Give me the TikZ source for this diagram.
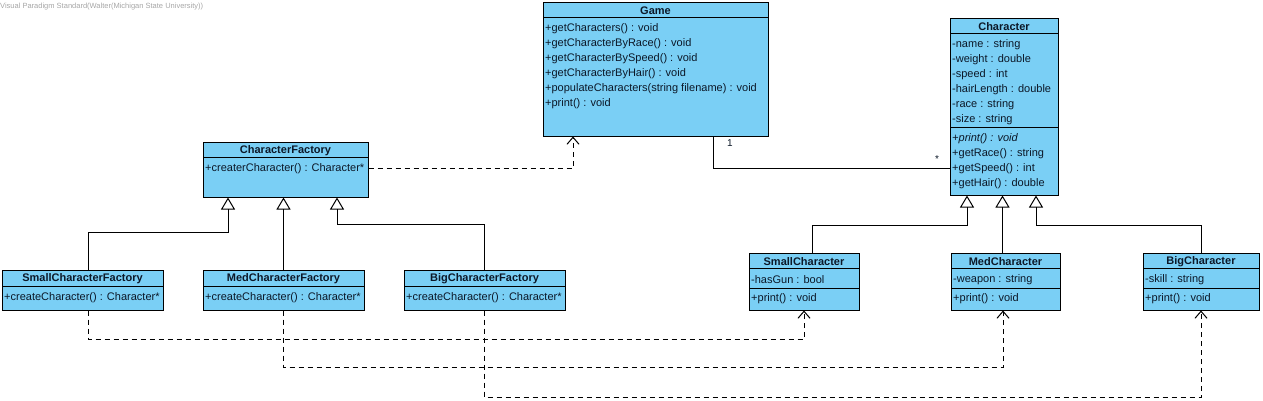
\documentclass[tikz,border=0pt]{standalone}
\usepackage{fontspec}
\setmainfont{Liberation Sans}
\usepackage{xcolor}
\usepackage{tikz}
\usetikzlibrary{arrows.meta}
\definecolor{classblue}{RGB}{122,207,245}
\definecolor{textnavy}{RGB}{12,24,40}

\begin{document}
\begin{tikzpicture}[
    x=1pt, y=-1pt,
    umlbox/.style={rectangle, draw, fill=classblue, line width=1pt, inner sep=0pt},
    clstitle/.style={font=\fontsize{11}{13}\selectfont\bfseries, text=textnavy, inner sep=0pt, yshift=-1pt},
    member/.style={anchor=west, font=\fontsize{11}{13}\selectfont, text=textnavy, inner sep=0pt, yshift=-2pt},
    sep/.style={line width=1pt},
    genarrow/.style={-{Triangle[open, length=12pt, width=14pt]}, line width=1pt},
    deparrow/.style={-{Straight Barb[length=7pt, width=12pt]}, line width=1pt, dash pattern=on 5pt off 4pt}
]
\useasboundingbox (0,0) rectangle (1263,400);

\node[anchor=west, inner sep=0pt, font=\fontsize{7.5}{9}\selectfont, text=gray!70] (vpmark) at (0,7) {Visual Paradigm Standard(Walter(Michigan State University))};

% Game
\node[umlbox, minimum width=225pt, minimum height=134pt] (game) at (655.5,69) {};
\node[clstitle] (gameT) at (655.5,10) {Game};
\draw[sep] (543,17) -- (768,17);
\node[member] (game1) at (545,27) {+getCharacters() : void};
\node[member] (game2) at (545,42) {+getCharacterByRace() : void};
\node[member] (game3) at (545,57) {+getCharacterBySpeed() : void};
\node[member] (game4) at (545,72) {+getCharacterByHair() : void};
\node[member] (game5) at (545,87) {+populateCharacters(string filename) : void};
\node[member] (game6) at (545,102) {+print() : void};

% Character
\node[umlbox, minimum width=108pt, minimum height=177pt] (ch) at (1004,106.5) {};
\node[clstitle] (chT) at (1004,25.5) {Character};
\draw[sep] (950,33) -- (1058,33);
\node[member] (ch1) at (952,43) {-name : string};
\node[member] (ch2) at (952,58) {-weight : double};
\node[member] (ch3) at (952,73) {-speed : int};
\node[member] (ch4) at (952,88) {-hairLength : double};
\node[member] (ch5) at (952,103) {-race : string};
\node[member] (ch6) at (952,118) {-size : string};
\draw[sep] (950,127) -- (1058,127);
\node[member, font=\fontsize{11}{13}\selectfont\itshape] (ch7) at (952,137) {+print() : void};
\node[member] (ch8) at (952,152) {+getRace() : string};
\node[member] (ch9) at (952,167) {+getSpeed() : int};
\node[member] (ch10) at (952,182) {+getHair() : double};

% CharacterFactory
\node[umlbox, minimum width=165pt, minimum height=55pt] (cf) at (285.5,169.5) {};
\node[clstitle] (cfT) at (285.5,150) {CharacterFactory};
\draw[sep] (203,157) -- (368,157);
\node[member] (cf1) at (205,167) {+createrCharacter() : Character*};

% Factories
\node[umlbox, minimum width=161pt, minimum height=40pt] (smallF) at (82.5,290) {};
\node[clstitle] (smallFT) at (82.5,278) {SmallCharacterFactory};
\draw[sep] (2,286) -- (163,286);
\node[member] (smallF1) at (4,295.5) {+createCharacter() : Character*};

\node[umlbox, minimum width=161pt, minimum height=40pt] (medF) at (283.5,290) {};
\node[clstitle] (medFT) at (283.5,278) {MedCharacterFactory};
\draw[sep] (203,286) -- (364,286);
\node[member] (medF1) at (205,295.5) {+createCharacter() : Character*};

\node[umlbox, minimum width=161pt, minimum height=40pt] (bigF) at (484.5,290) {};
\node[clstitle] (bigFT) at (484.5,278) {BigCharacterFactory};
\draw[sep] (404,286) -- (565,286);
\node[member] (bigF1) at (406,295.5) {+createCharacter() : Character*};

% Characters
\node[umlbox, minimum width=110pt, minimum height=57pt] (smallC) at (804,281.5) {};
\node[clstitle] (smallCT) at (804,261) {SmallCharacter};
\draw[sep] (749,268) -- (859,268);
\node[member] (smallC1) at (751,278) {-hasGun : bool};
\draw[sep] (749,288) -- (859,288);
\node[member] (smallC2) at (751,297) {+print() : void};

\node[umlbox, minimum width=109pt, minimum height=57pt] (medC) at (1005.5,281.5) {};
\node[clstitle] (medCT) at (1005.5,261) {MedCharacter};
\draw[sep] (951,268) -- (1060,268);
\node[member] (medC1) at (953,278) {-weapon : string};
\draw[sep] (951,288) -- (1060,288);
\node[member] (medC2) at (953,297) {+print() : void};

\node[umlbox, minimum width=116pt, minimum height=57pt] (bigC) at (1201,281.5) {};
\node[clstitle] (bigCT) at (1201,261) {BigCharacter};
\draw[sep] (1143,268) -- (1259,268);
\node[member] (bigC1) at (1145,278) {-skill : string};
\draw[sep] (1143,288) -- (1259,288);
\node[member] (bigC2) at (1145,297) {+print() : void};

% Association
\draw[line width=1pt] ([xshift=57.5pt]game.south) |- ([yshift=-61.5pt]ch.west);
\node[font=\fontsize{10}{12}\selectfont, text=textnavy, inner sep=0pt] (mult1) at (730,143) {1};
\node[font=\fontsize{10}{12}\selectfont, text=textnavy, inner sep=0pt] (mult2) at (937,159) {*};

% Generalizations
\draw[genarrow] ([xshift=6pt]smallF.north) -- ++(0,-37) -| ([xshift=-57.5pt]cf.south);
\draw[genarrow] (medF.north) -- (medF.north |- cf.south);
\draw[genarrow] (bigF.north) -- ++(0,-45) -| ([xshift=51.5pt]cf.south);

\draw[genarrow] ([xshift=8pt]smallC.north) -- ++(0,-27) -| ([xshift=-37pt]ch.south);
\draw[genarrow] ([xshift=-3pt]medC.north) -- ([xshift=-1.5pt]ch.south);
\draw[genarrow] (bigC.north) -- ++(0,-27) -| ([xshift=32pt]ch.south);

% Dependencies
\draw[deparrow] ([yshift=1.5pt]cf.east) -| ([xshift=-82.5pt]game.south);
\draw[deparrow] ([xshift=6pt]smallF.south) -- ++(0,29) -| (smallC.south);
\draw[deparrow] (medF.south) -- ++(0,57) -| ([xshift=-2.5pt]medC.south);
\draw[deparrow] (bigF.south) -- ++(0,87) -| (bigC.south);

\end{tikzpicture}
\end{document}
